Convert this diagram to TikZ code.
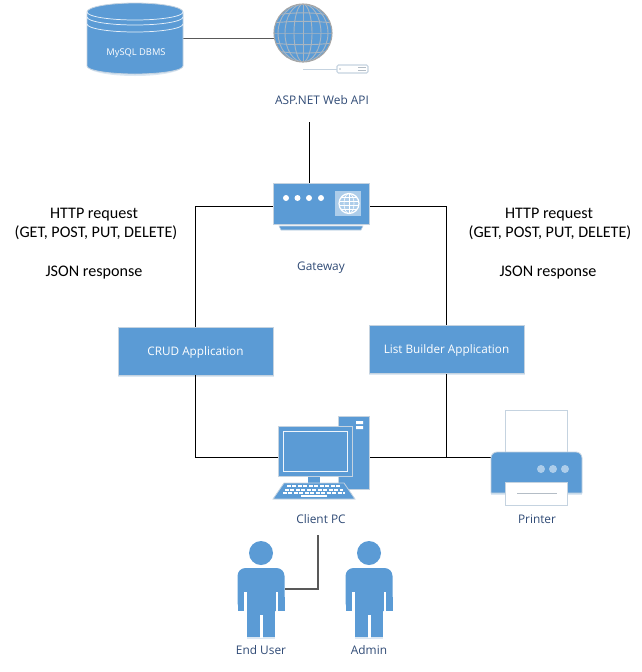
\documentclass[tikz,border=0pt]{standalone}
\usepackage{fontspec}
\setmainfont{Open Sans}
\newfontfamily\calib{Carlito}
\definecolor{vblue}{HTML}{5B9BD5}
\definecolor{vedge}{HTML}{C5D3E0}
\definecolor{vshadow}{HTML}{DCE8F3}
\definecolor{vlabel}{HTML}{2F4A75}
\definecolor{vgrid}{HTML}{B4BDC6}
\definecolor{vmesh}{HTML}{A9B6C2}
\def\px{0.75pt}
\tikzset{
  wire/.style={draw=black,line width=0.75pt},
  greywire/.style={draw=black!65,line width=1.2pt},
  anchorbox/.style={inner sep=0pt,outer sep=0pt,minimum width=#1},
  applabel/.style={font=\fontsize{8.9}{10}\selectfont,text=vlabel,inner sep=0pt,text height=6.4pt,text depth=0pt},
  boxlabel/.style={draw=vedge,line width=0.6pt,fill=vblue,text=white,font=\fontsize{8.8}{10}\selectfont,inner sep=0pt,minimum width=155*\px,minimum height=48*\px,text height=6.3pt,text depth=0pt},
  note/.style={font=\calib\fontsize{12.1}{14}\selectfont,text=black,inner sep=0pt,text height=7.7pt,text depth=0pt},
  iconfill/.style={fill=vblue,draw=vedge,line width=0.6pt},
}
\begin{document}
\begin{tikzpicture}[x=0.75pt,y=-0.75pt]
\useasboundingbox (0,0) rectangle (642,672);
% anchor nodes for the icons
\node[anchorbox=96*\px,minimum height=71*\px] (db) at (135,38.5) {};
\node[circle,inner sep=0pt,outer sep=0pt,minimum size=58*\px] (web) at (303,33) {};
\node[applabel] (weblabel) at (322,100) {ASP.NET Web API};
\node[anchorbox=96*\px,minimum height=46*\px] (gw) at (321,206) {};
\node[applabel] (gwlabel) at (321,266) {Gateway};
\node[anchorbox=91*\px,minimum height=90*\px] (pc) at (323.5,457.5) {};
\node[applabel] (pclabel) at (321,519) {Client PC};
\node[anchorbox=91*\px,minimum height=95*\px] (printer) at (536.5,457.5) {};
\node[applabel] (printerlabel) at (537,519) {Printer};
\node[anchorbox=48*\px,minimum height=42*\px] (user) at (261,589) {};
\node[applabel] (userlabel) at (261,650) {End User};
\node[anchorbox=48*\px,minimum height=42*\px] (admin) at (369,589) {};
\node[applabel] (adminlabel) at (369,650) {Admin};
% shadow strips and boxes
\fill[vshadow] (118,373) rectangle (274,377);
\fill[vshadow] (369,371) rectangle (525,375);
\node[boxlabel] (crud) at (195.5,351) {CRUD Application};
\node[boxlabel] (listb) at (446.5,349.5) {List Builder Application};
\coordinate (drop) at (318,535);
\coordinate (apiout) at (309,122);
% connectors
\draw[greywire] (db.east) -- (db.east -| web.center);
\draw[wire] (apiout) -- (apiout |- gw.north);
\draw[wire] (gw.west) -- (gw.west -| crud.north) -- (crud.north);
\draw[wire] (gw.east) -- (gw.east -| listb.north) -- (listb.north);
\draw[wire] (crud.south) -- (crud.south |- pc.center) -- (pc.center);
\draw[wire] (listb.south) -- (listb.south |- printer.center);
\draw[wire] (pc.center) -- (printer.center);
\draw[greywire] (user.east) -- (user.east -| drop) -- (drop);
% database
\fill[vshadow] (87,66) arc[start angle=180,end angle=0,x radius=48,y radius=10] -- cycle;
\path[iconfill] (87,12) -- (87,66) arc[start angle=180,end angle=0,x radius=48,y radius=8] -- (183,12) arc[start angle=0,end angle=-180,x radius=48,y radius=9] -- cycle;
\foreach \yy in {12,17,24}{\draw[white!85!vblue,line width=0.55pt] (87,\yy) arc[start angle=180,end angle=0,x radius=48,y radius=8];}
\node[text=white,font=\fontsize{7}{8}\selectfont,inner sep=0pt,text height=5pt,text depth=0pt] (dblabel) at (136,52) {MySQL DBMS};
% globe
\begin{scope}
\clip (303,33) circle[radius=29];
\fill[vblue] (303,33) circle[radius=29];
\foreach \rr in {9,18,25}{\draw[vmesh,line width=0.7pt] (303,33) ellipse[x radius=\rr,y radius=29];}
\draw[vmesh,line width=0.7pt] (303,4) -- (303,62);
\foreach \dy in {-19,-11,0,11,19}{\draw[vmesh,line width=0.7pt] (270,33+\dy-\dy*0.12) .. controls (290,33+\dy+\dy*0.12) and (316,33+\dy+\dy*0.12) .. (336,33+\dy-\dy*0.12);}
\end{scope}
\draw[black!35,line width=0.8pt] (303,33) circle[radius=29];
% small server
\draw[vedge,line width=0.7pt] (303,69) -- (337,69);
\draw[vedge,fill=white,line width=0.8pt,rounded corners=1pt] (337,65) rectangle (368,73);
\fill[vgrid] (340,69) circle[radius=0.9];
\draw[vgrid,line width=0.4pt] (358,67.5) -- (366,67.5) (358,70.5) -- (366,70.5);
% gateway
\fill[vblue,draw=vedge,line width=0.4pt] (279,226) -- (363,226) -- (361,230) -- (281,230) -- cycle;
\path[iconfill] (273,183) rectangle (369,224);
\foreach \xx in {286,297.5,309,321}{\fill[white] (\xx,198) circle[radius=3];}
\fill[white!50!vblue] (335,191) rectangle (361,216);
\begin{scope}
\clip (349,203.5) circle[radius=10];
\draw[white,line width=0.45pt] (349,203.5) ellipse[x radius=5,y radius=10];
\draw[white,line width=0.45pt] (349,193) -- (349,214);
\foreach \dy in {-6,-2,2,6}{\draw[white,line width=0.45pt] (338,203.5+\dy) -- (360,203.5+\dy);}
\end{scope}
\draw[white,line width=0.9pt] (349,203.5) circle[radius=10];
% client PC
\path[iconfill] (338,416) rectangle (369,489);
\fill[white] (356,421) rectangle (363,424) (356,426) rectangle (363,429);
\fill[vblue] (308,476) rectangle (320,484);
\path[iconfill] (278,426) rectangle (352,476);
\draw[white!90!vblue,line width=0.7pt] (283,431) rectangle (347,471);
\path[iconfill] (284,483) -- (344,483) -- (355,499) -- (273,499) -- cycle;
\foreach \xa/\xb/\yy in {287/341/486,285/343/489.5,283/345/493}{
  \draw[white,line width=1.5pt,dash pattern=on 3pt off 1.1pt] (\xa,\yy) -- (\xb,\yy);}
\fill[white] (301,494.5) rectangle (327,496.5);
% printer
\draw[vedge,fill=white,line width=0.7pt] (505,410) rectangle (567,453);
\fill[vshadow] (491,490) rectangle (582,495);
\path[iconfill] (491,493) -- (491,458) arc[start angle=180,end angle=270,radius=6] -- (576,452) arc[start angle=270,end angle=360,radius=6] -- (582,493) -- cycle;
\foreach \xx in {541,553,565}{\fill[white!50!vblue] (\xx,469) circle[radius=4];}
\draw[vedge,fill=white,line width=0.7pt] (505,482) rectangle (567,505);
\draw[vgrid,line width=0.6pt] (517,493) -- (557,493);
% people
\foreach \nn in {user,admin}{
  \begin{scope}[shift={(\nn.center)}]
  \fill[vshadow] (-14,44) rectangle (14,50);
  \fill[vblue] (0,-36) circle[radius=12];
  \fill[vblue,rounded corners=6pt] (-23.5,22) -- (-23.5,-21) -- (23.5,-21) -- (23.5,22) -- (0,22) -- cycle;
  \fill[vblue] (-23.5,8) rectangle (23.5,22);
  \fill[vblue] (-14,10) rectangle (14,48);
  \fill[white] (-1.5,26) rectangle (1.5,49);
  \fill[white] (-17,3) rectangle (-14.5,23);
  \fill[white] (14.5,3) rectangle (17,23);
  \end{scope}
}
% notes
\node[note] (n1) at (94,213) {HTTP request};
\node[note] (n2) at (96,232) {(GET, POST, PUT, DELETE)};
\node[note] (n3) at (94,271) {JSON response};
\node[note] (n4) at (549,213) {HTTP request};
\node[note] (n5) at (550,232) {(GET, POST, PUT, DELETE)};
\node[note] (n6) at (548,271) {JSON response};
\end{tikzpicture}
\end{document}
